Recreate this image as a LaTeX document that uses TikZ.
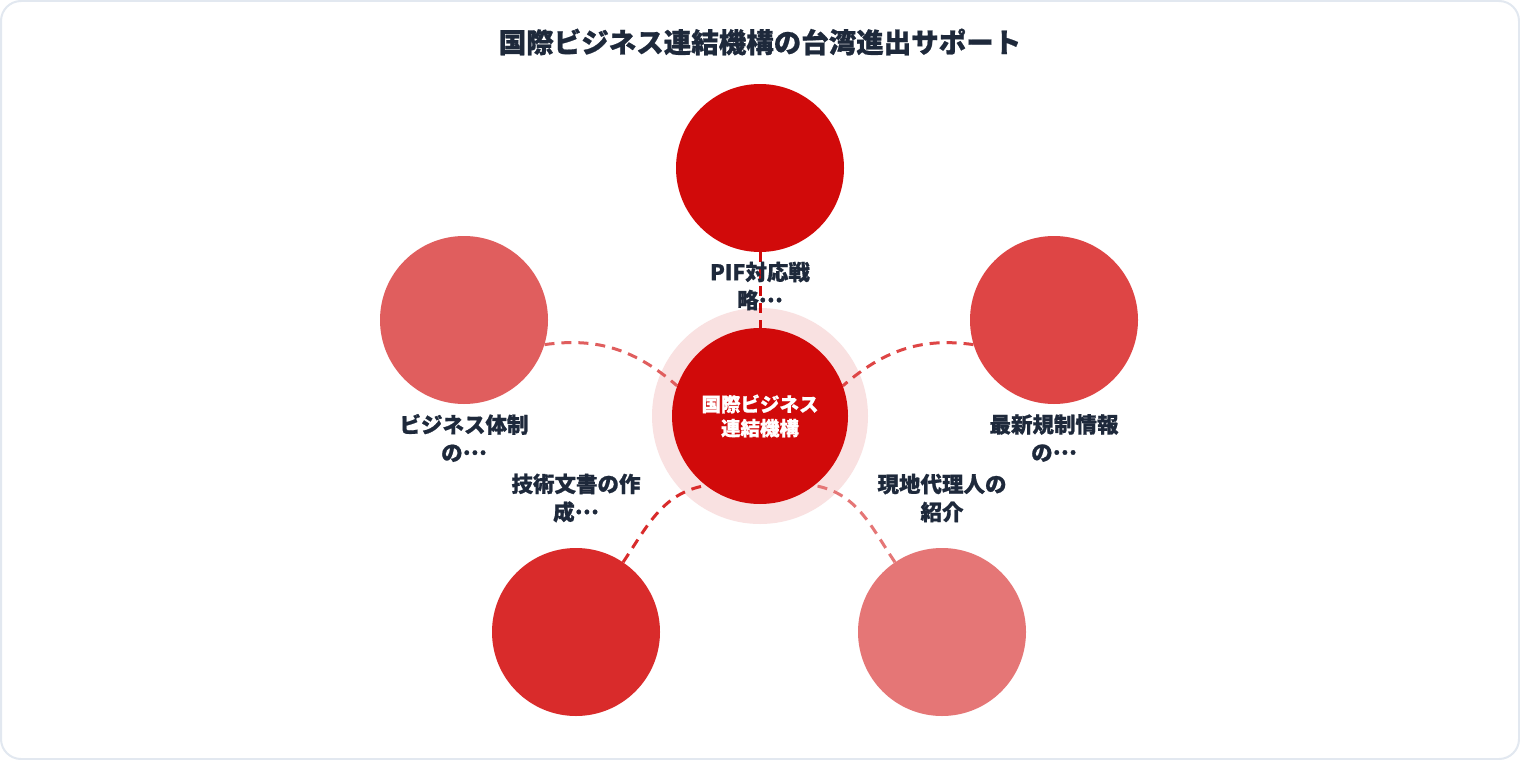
\documentclass[tikz,border=0pt]{standalone}
\usepackage{fontspec}
\setmainfont{Noto Sans CJK JP}[BoldFeatures={FakeBold=0.8}]
\definecolor{ink}{HTML}{1E293B}
\definecolor{cmain}{HTML}{D10A0A}
\definecolor{cleft}{HTML}{E05E5E}
\definecolor{cright}{HTML}{DE4545}
\definecolor{cbl}{HTML}{D92B2B}
\definecolor{cbr}{HTML}{E57676}
\definecolor{halo}{HTML}{F9E1E1}
\definecolor{frame}{HTML}{E2E8F0}
\newcommand{\mydots}{\raisebox{0.28em}{…}}
\begin{document}
\begin{tikzpicture}[x=1pt,y=-1pt,
  outer/.style={circle,minimum size=168pt,inner sep=0pt},
  conn/.style={line width=3pt,dash pattern=on 10pt off 7pt},
  lbl/.style={align=center,text=ink,font=\bfseries\fontsize{21.5}{28}\selectfont},
]
\useasboundingbox (0,0) rectangle (1520,760);
\draw[frame,line width=2pt,rounded corners=20pt,fill=white] (1,1) rectangle (1519,759);
\node[text=ink,font=\bfseries\fontsize{27.5}{32}\selectfont] (title) at (760,42) {国際ビジネス連結機構の台湾進出サポート};
% halo
\node[circle,fill=halo,minimum size=216pt,inner sep=0pt] (H) at (760,416) {};
% node positions (filled later, after connectors)
\node[outer] (T) at (760,168) {};
\node[outer] (L) at (464,320) {};
\node[outer] (R) at (1054,320) {};
\node[outer] (BL) at (576,632) {};
\node[outer] (BR) at (942,632) {};
\node[circle,minimum size=176pt,inner sep=0pt] (C) at (760,416) {};
% connectors
\draw[conn,cmain] (T.south) -- (C.north);
\draw[conn,cleft] (L.-17) to[out=8,in=139] (C.160);
\draw[conn,cright] (R.-163) to[out=172,in=41] (C.20);
\draw[conn,cbl] (BL.56) to[out=56,in=190] (C.-128);
\draw[conn,cbr] (BR.124) to[out=124,in=-10] (C.-52);
% fills
\fill[cmain] (T) circle (84);
\fill[cleft] (L) circle (84);
\fill[cright] (R) circle (84);
\fill[cbl] (BL) circle (84);
\fill[cbr] (BR) circle (84);
\fill[cmain] (C) circle (88);
\node[align=center,text=white,font=\bfseries\fontsize{19.5}{24}\selectfont] (ct) at (760,416) {国際ビジネス\\連結機構};
% labels
\node[lbl] (tl) at (760,286) {PIF対応戦\\略\mydots};
\node[lbl] (ll) at (464,438) {ビジネス体制\\の\mydots};
\node[lbl] (rl) at (1054,438) {最新規制情報\\の\mydots};
\node[lbl] (bll) at (576,498) {技術文書の作\\成\mydots};
\node[lbl] (brl) at (942,498) {現地代理人の\\紹介};
\end{tikzpicture}
\end{document}
